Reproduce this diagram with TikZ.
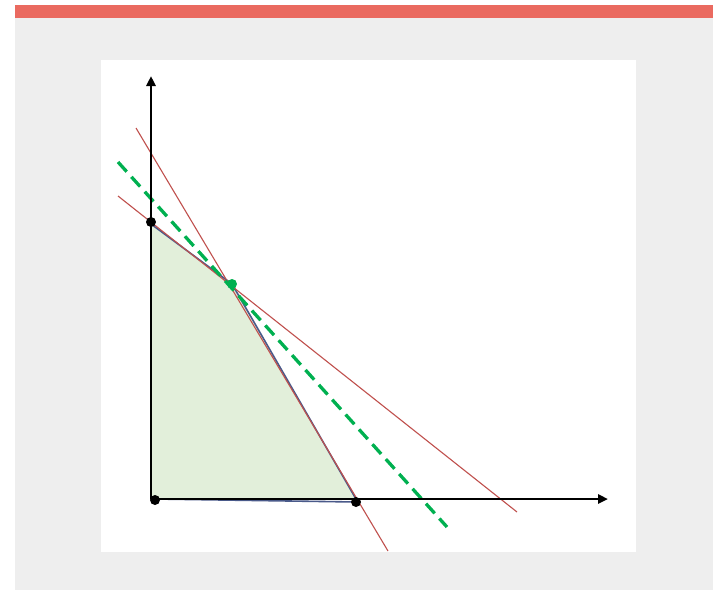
\documentclass[tikz,border=0pt]{standalone}
\usetikzlibrary{arrows.meta}
\definecolor{barred}{HTML}{EA6A60}
\definecolor{bggrey}{HTML}{EEEEEE}
\definecolor{feasfill}{HTML}{E2EFDA}
\definecolor{edgeblue}{HTML}{4A5A8A}
\definecolor{conred}{HTML}{C0504D}
\definecolor{objgreen}{HTML}{00B050}
\tikzset{
  axis/.style={line width=2.8pt,-{Triangle[length=10pt,width=9pt]}},
  constraint/.style={conred,line width=1.1pt},
  objective/.style={objgreen,line width=3.3pt,dash pattern=on 13pt off 7pt},
  vertexdot/.style={circle,fill=black,inner sep=0pt,minimum size=10pt},
  optdot/.style={circle,fill=objgreen,inner sep=0pt,minimum size=10pt},
}
\begin{document}
\begin{tikzpicture}[x=1pt,y=-1pt]
\useasboundingbox (0,0) rectangle (713,590);
\fill[white] (0,0) rectangle (713,590);
\fill[barred] (15,5) rectangle (713,18);
\fill[bggrey] (15,18) rectangle (713,590);
\fill[white] (101,60) rectangle (636,552);
% coordinates
\coordinate (A) at (151,224);
\coordinate (B) at (232,284);
\coordinate (C) at (356,499);
\coordinate (Ybot) at (151,499);
\coordinate (Ytop) at (151,76);
\coordinate (Xbeg) at (151,499);
\coordinate (Xend) at (608,499);
% feasible region
\fill[feasfill] (A) -- (B) -- (C) -- (155,498) -- (151,498) -- cycle;
\draw[edgeblue,line width=1.6pt] (A) -- (B) -- (C);
\draw[edgeblue,line width=1.6pt] (155,499) -- (356,502);
% constraints
\coordinate (r1a) at (118,196);
\coordinate (r1b) at (517,512);
\coordinate (r2a) at (136,128);
\coordinate (r2b) at (388,551);
\draw[constraint] (r1a) -- (r1b);
\draw[constraint] (r2a) -- (r2b);
% objective
\coordinate (ga) at (118,162);
\coordinate (gb) at (447,527);
\draw[objective] (ga) -- (gb);
% axes
\draw[axis] (Ybot) -- (Ytop);
\draw[axis] (Xbeg) -- (Xend);
% points
\node[vertexdot] (pA) at (151,222) {};
\node[vertexdot] (pO) at (155,500) {};
\node[vertexdot] (pC) at (356,502) {};
\node[optdot] (pB) at (232,284) {};
\end{tikzpicture}
\end{document}
